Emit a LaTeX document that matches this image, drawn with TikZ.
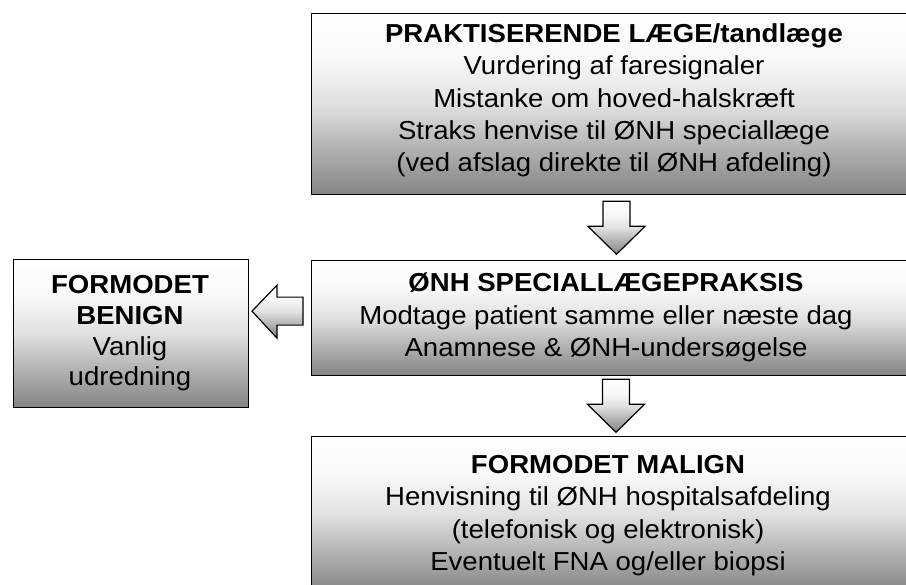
\documentclass[tikz,border=0pt]{standalone}
\usepackage{fontspec}
\setmainfont{Liberation Sans}[FakeStretch=1.06]
\usetikzlibrary{calc}
\pgfdeclareverticalshading{boxshade}{100bp}{color(0bp)=(black!48); color(25bp)=(black!48); color(36bp)=(black!33); color(50bp)=(black!12); color(62bp)=(black!3); color(75bp)=(white); color(100bp)=(white)}
\tikzset{
  box/.style={draw=black, line width=1.3pt, shade, shading=boxshade, rectangle, inner sep=0pt, anchor=north west},
  blockarrow/.style={draw=black, line width=1.2pt, shade, shading=boxshade, line join=miter},
  ln/.style={anchor=base, inner sep=0pt, font=\fontsize{26}{32}\selectfont},
  hd/.style={ln, font=\fontsize{26}{32}\selectfont\bfseries},
}
\begin{document}
\begin{tikzpicture}[x=1pt,y=-1pt]
\clip (0,0) rectangle (906,585);
\fill[white] (0,0) rectangle (906,585);
% boxes
\node[box, minimum width=604pt, minimum height=181pt] (topbox) at (311,13) {};
\node[box, minimum width=604pt, minimum height=115pt] (midbox) at (311,260) {};
\node[box, minimum width=235pt, minimum height=148pt] (leftbox) at (13,259) {};
\node[box, minimum width=604pt, minimum height=156pt] (botbox) at (311,436) {};
% top texts
\node[hd] (t1) at (614,43) {PRAKTISERENDE LÆGE/tandlæge};
\node[ln] (t2) at (614,75) {Vurdering af faresignaler};
\node[ln] (t3) at (614,107.5) {Mistanke om hoved-halskræft};
\node[ln] (t4) at (614,140) {Straks henvise til ØNH speciallæge};
\node[ln] (t5) at (614,172) {(ved afslag direkte til ØNH afdeling)};
% middle texts
\node[hd] (m1) at (606,292) {ØNH SPECIALLÆGEPRAKSIS};
\node[ln] (m2) at (606,325) {Modtage patient samme eller næste dag};
\node[ln] (m3) at (606,357) {Anamnese \& ØNH-undersøgelse};
% left texts
\node[hd] (l1) at (130,294) {FORMODET};
\node[hd] (l2) at (130,325) {BENIGN};
\node[ln] (l3) at (130,356) {Vanlig};
\node[ln] (l4) at (130,386) {udredning};
% bottom texts
\node[hd] (b1) at (608,474) {FORMODET MALIGN};
\node[ln] (b2) at (608,506) {Henvisning til ØNH hospitalsafdeling};
\node[ln] (b3) at (608,538) {(telefonisk og elektronisk)};
\node[ln] (b4) at (608,570) {Eventuelt FNA og/eller biopsi};
% block arrows
\coordinate (a1) at ($(topbox.south west)+(305.5,6)$);
\coordinate (a2) at ($(midbox.south west)+(305,3)$);
\coordinate (a3) at ($(midbox.west)+(-8,-7)$);
\path[blockarrow] (a1) ++(-13.5,0) -- ++(27,0) -- ++(0,25) -- ++(15,0) -- ++(-28.5,28) -- ++(-28.5,-28) -- ++(15,0) -- cycle;
\path[blockarrow] (a2) ++(-13.5,0) -- ++(27,0) -- ++(0,25) -- ++(15,0) -- ++(-28.5,28) -- ++(-28.5,-28) -- ++(15,0) -- cycle;
\path[blockarrow] (a3) ++(0,-14) -- ++(-26,0) -- ++(0,-12) -- ++(-25,26) -- ++(25,27) -- ++(0,-13) -- ++(26,0) -- cycle;
\end{tikzpicture}
\end{document}
